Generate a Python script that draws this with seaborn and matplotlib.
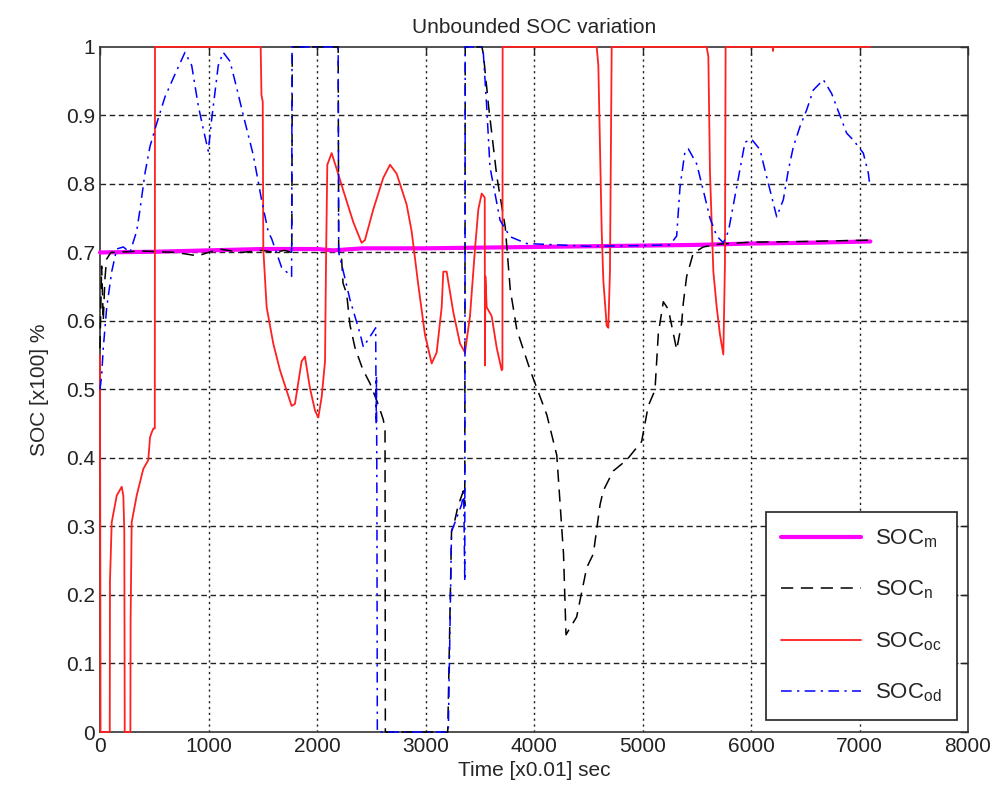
import numpy as np
import pandas as pd
import matplotlib
matplotlib.use('Agg')
import matplotlib.pyplot as plt
import seaborn as sns

# SOC_m : almost flat reference
t_m = [0, 500, 1000, 1500, 2000, 2150, 2420, 3000, 3500, 4000, 4500, 5000, 5500, 6000, 6500, 7100]
soc_m = [0.700, 0.701, 0.703, 0.705, 0.705, 0.703, 0.706, 0.706, 0.707, 0.708, 0.709, 0.710, 0.711, 0.713, 0.714, 0.716]

# SOC_n : black dashed
t_n = [0, 15, 30, 45, 60, 100, 400, 700, 900, 1000, 1100, 1300, 1500, 1600, 1700, 1768,
       1772, 2195, 2200, 2227, 2240, 2273, 2304, 2350, 2420, 2488, 2560, 2611, 2627, 2630,
       3205, 3240, 3272, 3300, 3349, 3362, 3366, 3520, 3533, 3581, 3658, 3735, 3781, 3842,
       3965, 4118, 4210, 4272, 4295, 4393, 4486, 4547, 4609, 4638, 4730, 4854, 4992, 5053,
       5115, 5146, 5192, 5238, 5315, 5361, 5376, 5407, 5468, 5560, 5700, 6000, 6500, 7100]
soc_n = [0.56, 0.68, 0.60, 0.66, 0.69, 0.700, 0.702, 0.700, 0.695, 0.700, 0.705, 0.700, 0.703, 0.700, 0.703, 0.700,
         1.0, 1.0, 0.700, 0.690, 0.655, 0.640, 0.594, 0.561, 0.530, 0.509, 0.480, 0.456, 0.440, 0.0,
         0.0, 0.293, 0.310, 0.330, 0.352, 0.330, 1.0, 1.0, 0.990, 0.914, 0.810, 0.737, 0.646, 0.587,
         0.528, 0.463, 0.404, 0.260, 0.142, 0.168, 0.240, 0.260, 0.332, 0.352, 0.381, 0.397, 0.424, 0.476,
         0.499, 0.582, 0.628, 0.617, 0.558, 0.597, 0.626, 0.665, 0.699, 0.708, 0.712, 0.715, 0.716, 0.718]

# SOC_oc : red solid
t_oc = [0, 5, 90, 92, 108, 154, 200, 215, 224, 228, 280, 282, 292, 338, 399, 445, 461, 476, 492, 505,
        507, 1481, 1488, 1500, 1505, 1536, 1597, 1659, 1766, 1797, 1858, 1889, 1935, 1982, 2012, 2043,
        2074, 2083, 2095, 2135, 2181, 2243, 2335, 2411, 2442, 2519, 2611, 2673, 2734, 2826, 2872, 2934,
        2995, 3057, 3103, 3149, 3164, 3195, 3256, 3318, 3364, 3410, 3456, 3487, 3518, 3546, 3548, 3552,
        3564, 3610, 3656, 3702, 3709, 3711, 4578, 4593, 4624, 4639, 4670, 4685, 4700, 4716, 5591, 5607,
        5622, 5653, 5684, 5714, 5745, 5760, 5766, 6200, 6203, 6206, 7100]
soc_oc = [0.55, 0.0, 0.0, 0.221, 0.306, 0.345, 0.358, 0.345, 0.293, 0.0, 0.0, 0.162, 0.306, 0.345, 0.384, 0.397, 0.430, 0.437, 0.443, 0.443,
          1.0, 1.0, 0.930, 0.920, 0.705, 0.620, 0.567, 0.528, 0.476, 0.479, 0.541, 0.548, 0.502, 0.469, 0.459, 0.489,
          0.541, 0.685, 0.828, 0.845, 0.822, 0.790, 0.744, 0.714, 0.718, 0.763, 0.809, 0.828, 0.815, 0.770, 0.731, 0.652,
          0.580, 0.538, 0.554, 0.620, 0.672, 0.672, 0.613, 0.567, 0.554, 0.607, 0.705, 0.763, 0.786, 0.780, 0.535, 0.665,
          0.620, 0.607, 0.561, 0.528, 0.530, 1.0, 1.0, 0.973, 0.731, 0.659, 0.593, 0.590, 0.672, 1.0, 1.0, 0.986,
          0.816, 0.672, 0.620, 0.580, 0.551, 0.685, 1.0, 1.0, 0.994, 1.0, 1.0]

# SOC_od : blue dash-dot
t_od = [0, 15, 30, 62, 108, 154, 215, 276, 338, 369, 415, 461, 522, 599, 691, 783, 845, 906, 952, 998,
        1029, 1090, 1136, 1198, 1260, 1321, 1413, 1490, 1551, 1582, 1674, 1766, 1770, 2195, 2200, 2243,
        2304, 2396, 2427, 2541, 2545, 2548, 2552, 2556, 3210, 3240, 3272, 3333, 3352, 3362, 3366, 3517,
        3533, 3564, 3594, 3687, 3779, 3932, 4500, 5000, 5253, 5315, 5346, 5392, 5423, 5500, 5561, 5622,
        5684, 5745, 5792, 5838, 5899, 5945, 6007, 6083, 6129, 6175, 6237, 6298, 6344, 6390, 6452, 6513,
        6574, 6667, 6743, 6805, 6882, 6943, 7035, 7081, 7097]
soc_od = [0.50, 0.52, 0.56, 0.62, 0.672, 0.705, 0.708, 0.700, 0.731, 0.763, 0.816, 0.855, 0.888, 0.927, 0.960, 0.992, 0.973, 0.914, 0.880, 0.848,
          0.894, 0.973, 0.992, 0.979, 0.940, 0.900, 0.842, 0.776, 0.730, 0.720, 0.678, 0.665, 1.0, 1.0, 0.700, 0.672,
          0.631, 0.582, 0.562, 0.590, 0.450, 0.520, 0.350, 0.0, 0.0, 0.293, 0.306, 0.332, 0.350, 0.220, 1.0, 1.0,
          0.991, 0.913, 0.825, 0.747, 0.723, 0.713, 0.709, 0.710, 0.711, 0.724, 0.796, 0.848, 0.851, 0.829, 0.790, 0.750,
          0.724, 0.714, 0.731, 0.770, 0.822, 0.861, 0.865, 0.850, 0.820, 0.791, 0.752, 0.777, 0.820, 0.854, 0.884, 0.908,
          0.937, 0.952, 0.932, 0.906, 0.874, 0.864, 0.845, 0.816, 0.796]

x_ticks = list(range(0, 8001, 1000))
y_ticks = [0, 0.1, 0.2, 0.3, 0.4, 0.5, 0.6, 0.7, 0.8, 0.9, 1]
y_tick_labels = ['0', '0.1', '0.2', '0.3', '0.4', '0.5', '0.6', '0.7', '0.8', '0.9', '1']

sns.set_style('white')
plt.rcParams['font.family'] = ['Liberation Sans', 'DejaVu Sans']
plt.rcParams['mathtext.fontset'] = 'custom'
plt.rcParams['mathtext.rm'] = 'Liberation Sans'

fig = plt.figure(figsize=(10, 8.06), dpi=100)
ax = fig.add_axes([0.100, 0.0918, 0.868, 0.850])

# lines drawn above the frame so the parts lying on y=0 / y=1 stay visible
common = dict(ax=ax, estimator=None, sort=False, clip_on=False, zorder=3)
sns.lineplot(x=t_m, y=soc_m, color='#ff00ff', linewidth=3, label=r'SOC$_\mathrm{m}$', **common)
sns.lineplot(x=t_n, y=soc_n, color='black', linewidth=1.1, linestyle=(0, (8, 5)), label=r'SOC$_\mathrm{n}$', **common)
sns.lineplot(x=t_oc, y=soc_oc, color='#ff2020', linewidth=1.3, label=r'SOC$_\mathrm{oc}$', **common)
sns.lineplot(x=t_od, y=soc_od, color='#0000ff', linewidth=1.1, linestyle=(0, (7, 3.5, 1.5, 3.5)), label=r'SOC$_\mathrm{od}$', **common)

ax.set_xlim(0, 8000)
ax.set_ylim(0, 1)
ax.set_xticks(x_ticks)
ax.set_yticks(y_ticks)
ax.set_yticklabels(y_tick_labels)

# MATLAB-like grid: dashed horizontal, dotted vertical
for yv in y_ticks[1:-1]:
    ax.axhline(yv, color='#222222', linewidth=1, linestyle=(0, (4, 2.6)), zorder=0)
for xv in x_ticks[1:-1]:
    ax.axvline(xv, color='#222222', linewidth=1, linestyle=(0, (1.6, 2.6)), zorder=0)

ax.tick_params(direction='in', length=6, width=1, top=True, right=True, labelsize=15, colors='#222222')
for sp in ax.spines.values():
    sp.set_color('#333333')
    sp.set_linewidth(1.2)

ax.set_title('Unbounded SOC variation', fontsize=15, pad=10)
ax.set_xlabel('Time [x0.01] sec', fontsize=15, labelpad=4)
ax.set_ylabel('SOC [x100] %', fontsize=15, labelpad=12)

leg = ax.legend(loc='lower right', bbox_to_anchor=(0.987, 0.0175), borderaxespad=0,
                fontsize=16, handlelength=3.6, labelspacing=1.3, borderpad=0.7,
                handletextpad=0.6, fancybox=False, framealpha=1, edgecolor='#222222')
leg.get_frame().set_linewidth(1.2)
leg.set_zorder(5)

fig.savefig('out.png', dpi=100)
